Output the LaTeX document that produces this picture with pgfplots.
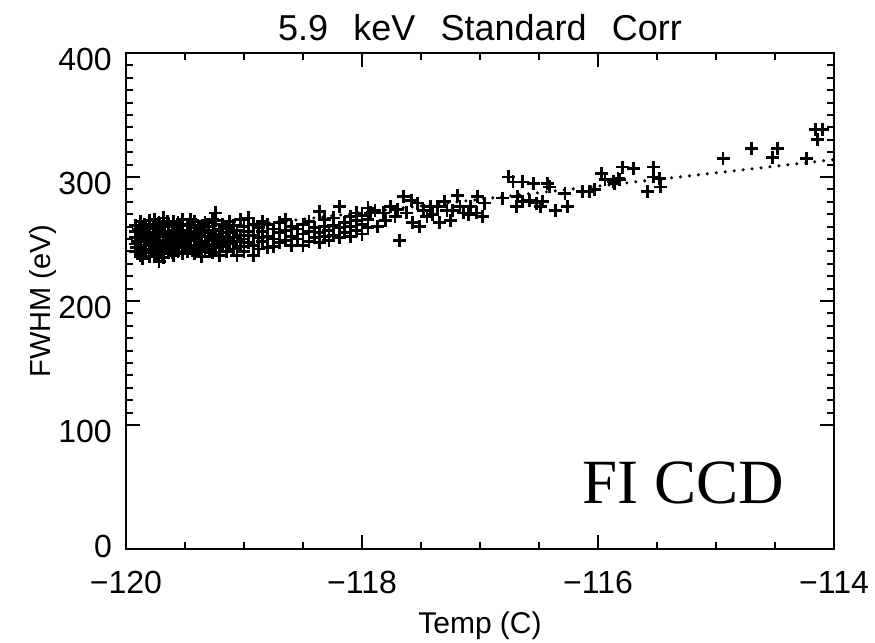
\documentclass[border=0pt]{standalone}
\usepackage{fontspec}
\setmainfont{Liberation Sans}
\newfontfamily\serifft{Liberation Serif}
\usepackage{pgfplots}
\pgfplotsset{compat=1.18}
\begin{document}
\begin{tikzpicture}
\useasboundingbox (-126bp,-94bp) rectangle (749bp,549bp);
\begin{axis}[
  at={(0,0)}, anchor=south west,
  scale only axis, width=708bp, height=496bp,
  xmin=-120, xmax=-114, ymin=0, ymax=400,
  xtick={-120,-118,-116,-114},
  xticklabels={−120,−118,−116,−114},
  ytick={100,200,300,400},
  yticklabels={100,200,300,400},
  extra y ticks={0},
  extra y tick labels={0},
  extra y tick style={yticklabel style={yshift=9bp}},
  minor x tick num=3, minor y tick num=9,
  tick align=inside,
  major tick length=14bp, minor tick length=7bp,
  every tick/.style={black, line width=2bp},
  axis line style={line width=2.2bp},
  tick label style={font=\fontsize{32bp}{35bp}\selectfont},
  xticklabel style={anchor=base, inner sep=0pt, yshift=-44bp},
  yticklabel style={anchor=east, inner sep=0pt, xshift=-14bp, yshift=-6bp},
  every axis title shift=0pt,
  title={5.9\hspace{0.7em}keV\hspace{0.7em}Standard\hspace{0.7em}Corr},
  title style={at={(axis description cs:0.5,1.0242)}, anchor=base, font=\fontsize{36bp}{39bp}\selectfont},
  xlabel={Temp (C)},
  xlabel style={at={(axis description cs:0.5,-0.1694)}, anchor=base, font=\fontsize{30bp}{33bp}\selectfont},
  ylabel={FWHM (eV)},
  ylabel style={at={(axis description cs:-0.1073,0.5)}, anchor=base, rotate=0, font=\fontsize{29bp}{32bp}\selectfont},
]
\addplot[black, line width=3.4bp, dash pattern=on 0pt off 9bp, line cap=round] coordinates {(-120,250) (-114,314)};
\addplot[only marks, mark=+, mark size=6.5bp, mark options={line width=2.8bp, black}] table {
x y
-119.92 240
-119.92 246
-119.92 251
-119.92 256
-119.92 261
-119.88 237
-119.88 243
-119.88 249
-119.88 254
-119.88 259
-119.88 264
-119.84 239
-119.84 245
-119.84 250
-119.84 257
-119.84 262
-119.80 236
-119.80 242
-119.80 248
-119.80 253
-119.80 258
-119.80 265
-119.76 238
-119.76 244
-119.76 251
-119.76 255
-119.76 260
-119.76 266
-119.72 232
-119.72 241
-119.72 247
-119.72 252
-119.72 258
-119.72 263
-119.68 235
-119.68 243
-119.68 249
-119.68 254
-119.68 261
-119.68 267
-119.64 239
-119.64 245
-119.64 250
-119.64 256
-119.64 262
-119.60 237
-119.60 244
-119.60 251
-119.60 257
-119.60 264
-119.56 240
-119.56 246
-119.56 252
-119.56 258
-119.56 263
-119.52 238
-119.52 243
-119.52 249
-119.52 255
-119.52 261
-119.52 266
-119.90 248
-119.86 234
-119.82 255
-119.78 247
-119.74 237
-119.70 256
-119.66 246
-119.62 241
-119.58 254
-119.54 248
-119.91 243
-119.89 258
-119.87 252
-119.85 241
-119.83 260
-119.81 250
-119.79 240
-119.77 262
-119.75 249
-119.73 244
-119.71 260
-119.69 238
-119.67 252
-119.65 264
-119.63 247
-119.61 239
-119.59 260
-119.57 249
-119.55 243
-119.53 257
-119.50 246
-119.47 253
-119.44 241
-119.41 255
-119.38 248
-119.35 261
-119.32 246
-119.29 240
-119.26 257
-119.23 249
-119.48 240
-119.48 251
-119.48 262
-119.45 245
-119.45 256
-119.45 266
-119.42 238
-119.42 249
-119.42 259
-119.42 264
-119.39 243
-119.39 253
-119.39 261
-119.36 236
-119.36 247
-119.36 257
-119.33 241
-119.33 252
-119.33 263
-119.30 245
-119.30 255
-119.30 260
-119.27 239
-119.27 250
-119.27 266
-119.24 243
-119.24 254
-119.24 265
-119.24 271
-119.21 237
-119.21 248
-119.21 258
-119.18 244
-119.18 252
-119.18 262
-119.15 240
-119.15 250
-119.15 259
-119.12 246
-119.12 255
-119.12 264
-119.09 242
-119.09 251
-119.09 261
-119.06 237
-119.06 248
-119.06 257
-119.03 244
-119.03 253
-119.03 266
-119.00 240
-119.00 250
-119.00 260
-118.96 247
-118.96 256
-118.96 267
-118.92 237
-118.92 245
-118.92 253
-118.92 262
-118.88 242
-118.88 251
-118.88 259
-118.84 248
-118.84 256
-118.84 264
-118.80 243
-118.80 252
-118.80 262
-118.75 244
-118.75 250
-118.75 258
-118.70 247
-118.70 255
-118.70 263
-118.65 249
-118.65 257
-118.65 266
-118.60 245
-118.60 252
-118.60 260
-118.55 250
-118.55 258
-118.50 245
-118.50 254
-118.50 262
-118.45 248
-118.45 256
-118.45 264
-118.40 251
-118.40 259
-118.36 247
-118.36 255
-118.36 272
-118.32 252
-118.32 260
-118.32 266
-118.28 249
-118.28 257
-118.24 253
-118.24 261
-118.24 267
-118.19 251
-118.19 259
-118.19 276
-118.15 255
-118.15 263
-118.10 252
-118.10 260
-118.10 268
-118.05 257
-118.05 265
-118.05 271
-118.00 254
-118.00 262
-118.00 269
-117.95 259
-117.95 266
-117.95 275
-117.93 271
-117.89 273
-117.87 260
-117.82 271
-117.80 265
-117.76 276
-117.72 268
-117.70 274
-117.68 249
-117.65 284
-117.62 271
-117.58 281
-117.57 263
-117.53 279
-117.51 260
-117.48 273
-117.45 268
-117.42 276
-117.40 270
-117.36 276
-117.34 263
-117.30 280
-117.28 273
-117.25 265
-117.23 273
-117.19 285
-117.17 276
-117.14 271
-117.10 270
-117.08 276
-117.03 271
-117.02 284
-116.98 268
-116.96 279
-116.81 283
-116.76 300
-116.72 296
-116.69 276
-116.68 284
-116.64 296
-116.64 280
-116.58 281
-116.55 295
-116.52 279
-116.49 276
-116.47 280
-116.43 295
-116.41 292
-116.36 273
-116.28 287
-116.26 276
-116.13 288
-116.07 288
-116.03 290
-115.97 303
-115.94 298
-115.87 296
-115.83 299
-115.86 295
-115.82 298
-115.79 308
-115.70 307
-115.58 288
-115.53 308
-115.53 300
-115.48 299
-115.47 292
-114.94 315
-114.70 323
-114.52 316
-114.48 323
-114.23 315
-114.16 338
-114.10 338
-114.14 330
};
\node[anchor=base west, inner sep=0pt, font=\serifft\fontsize{63bp}{66bp}\selectfont] at (axis cs:-116.13,36.3) {FI CCD};
\end{axis}
\end{tikzpicture}
\end{document}
